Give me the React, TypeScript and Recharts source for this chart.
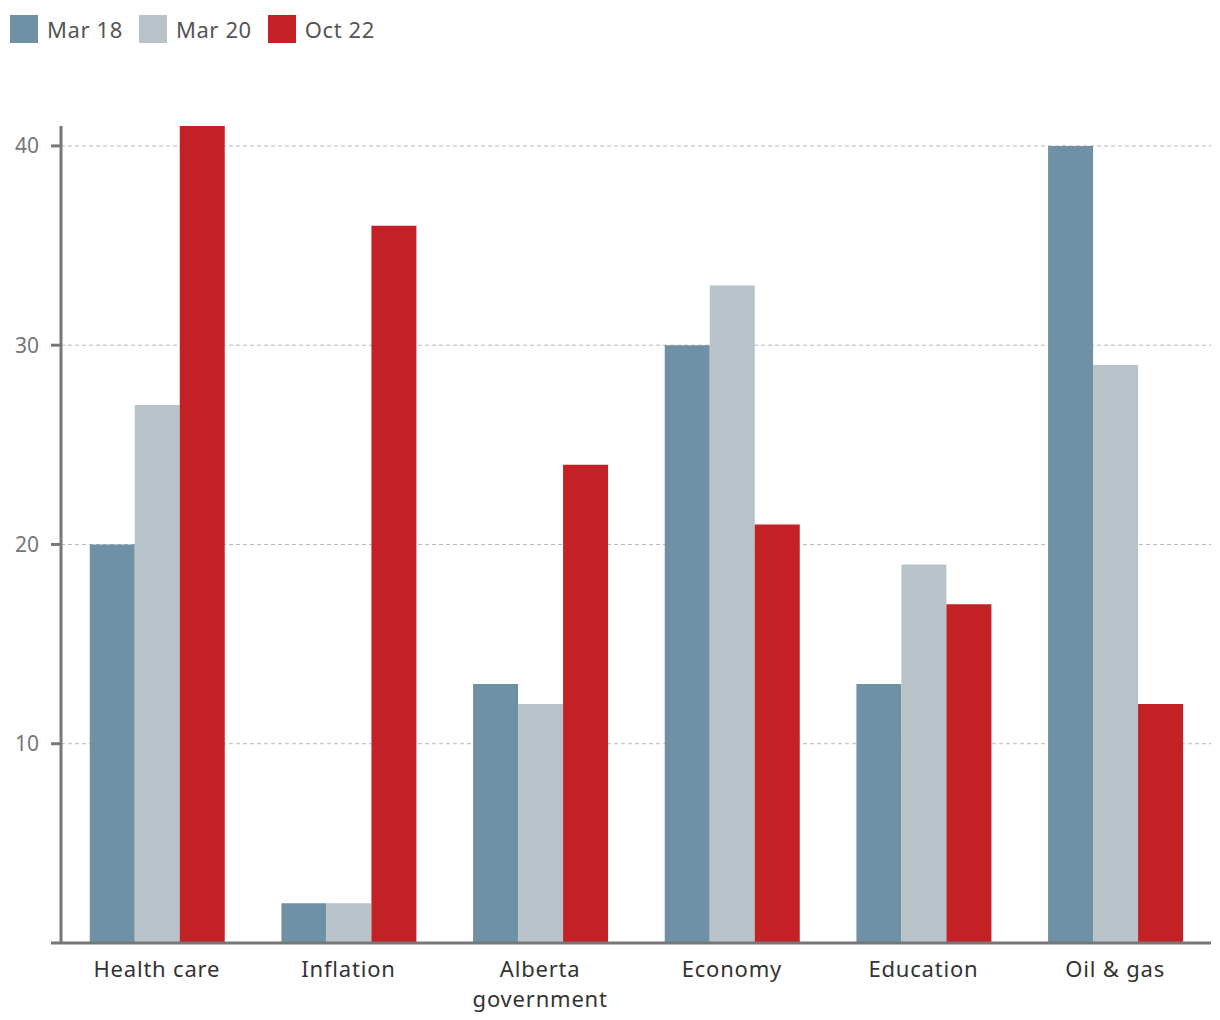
import { BarChart, Bar, XAxis, YAxis, CartesianGrid } from 'recharts';

const categories = ['Health care', 'Inflation', 'Alberta government', 'Economy', 'Education', 'Oil & gas'];
const mar18 = [20, 2, 13, 30, 13, 40];
const mar20 = [27, 2, 12, 33, 19, 29];
const oct22 = [41, 36, 24, 21, 17, 12];
const yTicks = [0, 10, 20, 30, 40];
const gridValues = [10, 20, 30, 40];

const series = [
  { key: 'mar18', name: 'Mar 18', color: '#6f90a5', values: mar18 },
  { key: 'mar20', name: 'Mar 20', color: '#b8c3c9', values: mar20 },
  { key: 'oct22', name: 'Oct 22', color: '#c42127', values: oct22 },
];

const data = categories.map((name, i) => {
  const row: Record<string, string | number> = { name };
  series.forEach((s) => {
    row[s.key] = s.values[i];
  });
  return row;
});

const FONT = '"Noto Sans", sans-serif';

// splits long category names onto two lines
function CategoryTick(props: any) {
  const { x, y, payload } = props;
  const label: string = payload.value;
  const lines = label.length > 12 ? label.split(' ') : [label];
  return (
    <text x={x} y={y + 26} textAnchor="middle" fill="#333" fontSize={22} letterSpacing={0.8} fontFamily={FONT}>
      {lines.map((line, i) => (
        <tspan key={i} x={x} dy={i === 0 ? 0 : 30}>
          {line}
        </tspan>
      ))}
    </text>
  );
}

export default function App() {
  return (
    <div style={{ position: 'relative', width: 1212, height: 1012, fontFamily: FONT }}>
      {/* legend */}
      <div style={{ position: 'absolute', top: 6, left: 2, display: 'flex', alignItems: 'center' }}>
        {series.map((s) => (
          <div key={s.key} style={{ display: 'flex', alignItems: 'center', marginRight: 16 }}>
            <div style={{ width: 28, height: 28, background: s.color, marginRight: 9 }} />
            <span style={{ fontSize: 22, color: '#555', letterSpacing: 0.6, lineHeight: '30px' }}>{s.name}</span>
          </div>
        ))}
      </div>
      <BarChart
        width={1212}
        height={1012}
        data={data}
        margin={{ top: 118, right: 9, left: 0, bottom: 0 }}
        barCategoryGap="15%"
        barGap={0}
      >
        <CartesianGrid
          vertical={false}
          horizontalValues={gridValues}
          stroke="#b0b8bc"
          strokeDasharray="4 3"
        />
        <XAxis
          dataKey="name"
          height={77}
          tickLine={false}
          axisLine={{ stroke: '#777', strokeWidth: 3 }}
          tick={<CategoryTick />}
          interval={0}
        />
        <YAxis
          width={53}
          domain={[0, 41]}
          ticks={yTicks}
          tickFormatter={(v: number) => (v === 0 ? '' : String(v))}
          tickSize={10}
          tickMargin={12}
          tickLine={{ stroke: '#777', strokeWidth: 3 }}
          axisLine={{ stroke: '#777', strokeWidth: 3 }}
          tick={{ fill: '#777', fontSize: 21, fontFamily: FONT }}
        />
        {series.map((s) => (
          <Bar key={s.key} dataKey={s.key} name={s.name} fill={s.color} isAnimationActive={false} />
        ))}
      </BarChart>
    </div>
  );
}
